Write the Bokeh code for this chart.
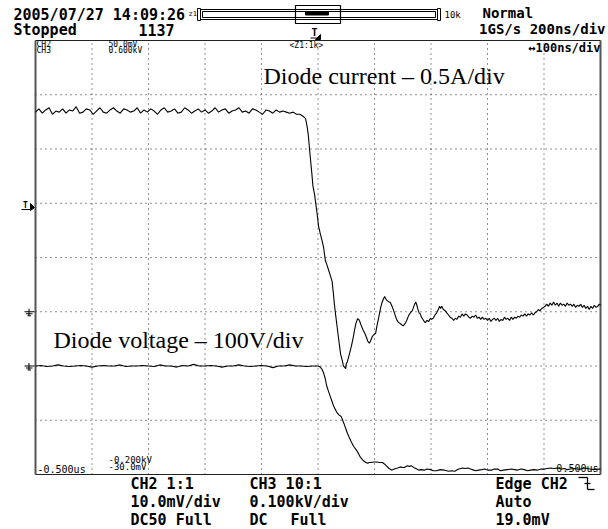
from bokeh.plotting import figure
from bokeh.models import Range1d, Label
from bokeh.embed import file_html
from bokeh.resources import INLINE

# ---------------------------------------------------------------------------
# Captured waveforms (time in ns relative to trigger)
# CH2: diode current (A), 0.5 A/div
# CH3: diode voltage (V), 100 V/div
# ---------------------------------------------------------------------------
t_current = [
    -500, -494, -488, -482, -476, -470, -464, -458, -452, -446,
    -440, -434, -428, -422, -416, -410, -404, -398, -392, -386,
    -380, -374, -368, -362, -356, -350, -344, -338, -332, -326,
    -320, -314, -308, -302, -296, -290, -284, -278, -272, -266,
    -260, -254, -248, -242, -236, -230, -224, -218, -212, -206,
    -200, -194, -188, -182, -176, -170, -164, -158, -152, -146,
    -140, -134, -128, -122, -116, -110, -104, -98, -92, -86,
    -80, -74, -68, -62, -56, -50, -44, -38,
    -32, -26, -22, -19, -17, -15, -13, -11, -9, -6,
    -4, -1, 1, 4, 7, 10, 13, 16, 19, 22,
    25, 27, 29, 31, 34, 36, 38, 40, 43, 45,
    47, 49, 50, 52, 54, 57, 59, 61, 63, 65,
    67, 70, 72, 74, 76, 78, 80, 83, 86, 88,
    91, 93, 96, 99, 102, 104, 107, 109, 111, 113,
    116, 118, 119, 121, 123, 126, 128, 131, 134, 137,
    140, 143, 146, 148, 151, 154, 157, 160, 162, 165,
    167, 169, 171, 173, 175, 177, 179, 181, 183, 185,
    188, 190, 193, 196, 199, 201, 204, 207, 210, 213,
    215, 217, 219, 222, 225, 228, 231, 234, 237, 240,
    243, 246, 249, 252, 255, 258, 261, 264, 267, 270,
    273, 276, 279, 282, 285, 288, 291, 294, 297, 300,
    303, 306, 309, 312, 315, 318, 321, 324, 327, 330,
    333, 336, 339, 342, 345, 348, 351, 354, 357, 360,
    363, 366, 369, 372, 375, 378, 381, 384, 387, 390,
    393, 396, 399, 402, 405, 408, 411, 414, 417, 420,
    423, 426, 429, 432, 435, 438, 441, 444, 447, 450,
    453, 456, 459, 462, 465, 468, 471, 474, 477, 480,
    483, 486, 489, 492, 495, 498, 500,
]
i_current = [
    1.84, 1.87, 1.83, 1.86, 1.88, 1.82, 1.85, 1.84, 1.87, 1.83,
    1.86, 1.85, 1.89, 1.83, 1.84, 1.87, 1.86, 1.82, 1.85, 1.88,
    1.84, 1.83, 1.86, 1.88, 1.85, 1.83, 1.87, 1.86, 1.84, 1.85,
    1.88, 1.83, 1.86, 1.84, 1.87, 1.85, 1.82, 1.86, 1.88, 1.84,
    1.85, 1.87, 1.83, 1.84, 1.88, 1.86, 1.83, 1.85, 1.87, 1.84,
    1.86, 1.83, 1.85, 1.88, 1.84, 1.86, 1.87, 1.83, 1.85, 1.86,
    1.88, 1.84, 1.85, 1.83, 1.87, 1.86, 1.84, 1.82, 1.86, 1.85,
    1.83, 1.86, 1.84, 1.85, 1.84, 1.83, 1.84, 1.82,
    1.82, 1.80, 1.78, 1.70, 1.62, 1.50, 1.39, 1.28, 1.16, 1.08,
    1.00, 0.88, 0.79, 0.72, 0.66, 0.59, 0.47, 0.43, 0.38, 0.33,
    0.28, 0.18, 0.07, -0.02, -0.145, -0.23, -0.31, -0.39, -0.45, -0.50,
    -0.51, -0.525, -0.48, -0.46, -0.42, -0.36, -0.32, -0.27, -0.22, -0.16,
    -0.11, -0.065, -0.07, -0.09, -0.12, -0.145, -0.17, -0.20, -0.24, -0.27,
    -0.29, -0.27, -0.23, -0.21, -0.20, -0.14, -0.065, -0.01, 0.04, 0.08,
    0.12, 0.14, 0.13, 0.11, 0.10, 0.09, 0.085, 0.05, 0.01, -0.04,
    -0.08, -0.10, -0.11, -0.12, -0.13, -0.11, -0.08, -0.04, -0.02, 0.00,
    0.01, 0.04, 0.07, 0.09, 0.06, 0.02, -0.01, -0.02, -0.05, -0.065,
    -0.09, -0.10, -0.08, -0.09, -0.06, -0.07, -0.06, -0.03, -0.01, 0.02,
    0.05, 0.03, 0.05, 0.02, 0.01, -0.01, -0.03, -0.05, -0.06, -0.08,
    -0.06, -0.07, -0.04, -0.05, -0.02, -0.04, -0.02, -0.03, -0.05, -0.06,
    -0.04, -0.05, -0.03, -0.06, -0.05, -0.07, -0.05, -0.07, -0.06, -0.08,
    -0.06, -0.09, -0.07, -0.06, -0.08, -0.06, -0.09, -0.07, -0.08, -0.05,
    -0.07, -0.06, -0.08, -0.05, -0.07, -0.05, -0.06, -0.04, -0.05, -0.03,
    -0.04, -0.02, -0.04, -0.02, -0.03, -0.01, -0.03, -0.01, 0.00, 0.02,
    0.01, 0.03, 0.04, 0.05, 0.07, 0.05, 0.08, 0.06, 0.09, 0.06,
    0.08, 0.05, 0.08, 0.06, 0.07, 0.05, 0.08, 0.06, 0.07, 0.05,
    0.07, 0.04, 0.06, 0.05, 0.07, 0.04, 0.06, 0.03, 0.05, 0.02,
    0.05, 0.03, 0.06, 0.04, 0.05, 0.07, 0.06,
]

t_voltage = [
    -500, -490, -480, -470, -460, -450, -440, -430, -420, -410,
    -400, -390, -380, -370, -360, -350, -340, -330, -320, -310,
    -300, -290, -280, -270, -260, -250, -240, -230, -220, -210,
    -200, -190, -180, -170, -160, -150, -140, -130, -120, -110,
    -100, -90, -80, -70, -60, -50, -40, -30, -20, -10,
    0, 2, 4, 7, 10, 13, 15, 18, 22, 25,
    27, 30, 33, 37, 41, 44, 47, 50, 52, 55,
    59, 63, 68, 72, 75, 79, 82, 85, 88, 91,
    94, 99, 104, 109, 114, 118, 121, 125, 130, 135,
    141, 146, 150, 153, 158, 162, 165, 168, 171, 175,
    178, 183, 188, 193, 199, 204, 210, 216, 224, 231,
    236, 242, 249, 256, 260, 265, 270, 273, 279, 284,
    290, 295, 301, 307, 312, 318, 323, 328, 335, 342,
    348, 353, 359, 365, 371, 376, 382, 388, 395, 401,
    406, 412, 418, 424, 430, 436, 441, 447, 453, 459,
    465, 472, 477, 482, 488, 495, 500,
]
v_voltage = [
    0, 1, -1, 0, 2, 0, -1, 0, 1, 0,
    -2, 0, 1, 0, 0, 2, -1, 0, 0, 1,
    0, -1, 2, 0, 0, -2, 1, 0, 3, 0,
    0, 1, 0, -2, 0, 0, 2, 0, -1, 0,
    1, 0, -3, 0, 0, 2, 0, 0, -1, 0,
    0, -1, -2, -6, -13, -24, -35, -45, -57, -66,
    -72, -79, -85, -90, -93, -101, -109, -118, -124, -131,
    -140, -148, -155, -162, -168, -173, -176, -178, -179, -178,
    -178, -177, -177, -178, -178, -181, -184, -188, -192, -190,
    -188, -186, -187, -187, -184, -185, -184, -186, -188, -190,
    -192, -191, -192, -190, -191, -193, -193, -191, -192, -194,
    -193, -194, -190, -188, -189, -188, -190, -191, -193, -192,
    -191, -190, -192, -192, -190, -190, -193, -192, -191, -190,
    -191, -192, -190, -191, -193, -192, -191, -192, -190, -190,
    -189, -188, -189, -188, -190, -189, -191, -190, -189, -190,
    -190, -188, -189, -190, -191, -190, -190,
]

# Graticule: 10 x 8 divisions, 100 ns/div horizontally
time_div_lines = [-400, -300, -200, -100, 0, 100, 200, 300, 400]
vert_div_lines = [-3, -2, -1, 0, 1, 2, 3]
CURRENT_PER_DIV = 0.5     # A/div
VOLTAGE_PER_DIV = 100.0   # V/div
CURRENT_ZERO_DIV = -1     # ground marker of CH2
VOLTAGE_ZERO_DIV = -2     # ground marker of CH3

# ---------------------------------------------------------------------------
# Canvas layout: the graticule occupies a fixed window inside the page
# ---------------------------------------------------------------------------
W, H = 608, 529
GL, GR, GT, GB = 35, 600, 40, 474
PX_X = (GR - GL) / 10.0
PX_Y = (GB - GT) / 8.0
CX, CY = (GL + GR) / 2.0, (GT + GB) / 2.0


def X(px):
    return (px - CX) * 100.0 / PX_X


def Y(py):
    return (CY - py) / PX_Y


y_lo, y_hi = Y(H), Y(0)

p = figure(
    width=W, height=H,
    x_range=Range1d(X(0), X(W)), y_range=Range1d(y_lo, y_hi),
    output_backend="svg", toolbar_location=None,
    x_axis_location=None, y_axis_location=None,
    min_border=0, min_border_left=0, min_border_right=0,
    min_border_top=0, min_border_bottom=0,
)
p.grid.visible = False
p.outline_line_color = None
p.background_fill_color = "white"
p.border_fill_color = "white"

p.extra_y_ranges = {
    "amps": Range1d((y_lo - CURRENT_ZERO_DIV) * CURRENT_PER_DIV,
                    (y_hi - CURRENT_ZERO_DIV) * CURRENT_PER_DIV),
    "volts": Range1d((y_lo - VOLTAGE_ZERO_DIV) * VOLTAGE_PER_DIV,
                     (y_hi - VOLTAGE_ZERO_DIV) * VOLTAGE_PER_DIV),
}

# dotted graticule
p.segment(x0=time_div_lines, y0=[-4] * len(time_div_lines),
          x1=time_div_lines, y1=[4] * len(time_div_lines),
          line_color="#222222", line_width=1, line_dash="1 4")
p.segment(x0=[-500] * len(vert_div_lines), y0=vert_div_lines,
          x1=[500] * len(vert_div_lines), y1=vert_div_lines,
          line_color="#222222", line_width=1, line_dash="1 4")

# screen frame
p.segment(x0=[-500, 500], y0=[-4, -4], x1=[-500, 500], y1=[4, 4],
          line_color="#555555", line_width=2)
p.segment(x0=[-500, -500], y0=[-4, 4], x1=[500, 500], y1=[-4, 4],
          line_color="#222222", line_width=1)

# traces
p.line(t_current, i_current, y_range_name="amps",
       line_color="black", line_width=1.1)
p.line(t_voltage, v_voltage, y_range_name="volts",
       line_color="black", line_width=1.1)


def label(txt, px, py, size, font="DejaVu Sans Mono", bold=False,
          align="left"):
    # py is the desired baseline; the text box sits about a third of the
    # font size below its anchor, so lift the anchor accordingly
    p.add_layout(Label(
        x=X(px), y=Y(py - 0.32 * size), text=txt, text_font=font,
        text_font_size=f"{size}px",
        text_font_style="bold" if bold else "normal",
        text_align=align, text_baseline="alphabetic", text_color="black"))


# header
label("2005/07/27 14:09:26", 13, 19, 15, bold=True)
label("Stopped", 13, 34, 15, bold=True)
label("1137", 138, 34, 15, bold=True)
label("z1", 188, 16, 7)
label("10k", 444, 17, 9)
label("Normal", 482, 17, 14, bold=True)
label("1GS/s 200ns/div", 605, 33, 14, bold=True, align="right")

# memory position bar
p.quad(left=[X(200), X(202)], right=[X(437), X(435)],
       top=[Y(9), Y(11)], bottom=[Y(19), Y(17)],
       fill_color=None, line_color="black", line_width=1)
p.quad(left=[X(197), X(437)], right=[X(200), X(440)],
       top=[Y(8), Y(8)], bottom=[Y(20), Y(20)],
       fill_color=None, line_color="black", line_width=1)
p.quad(left=X(295), right=X(340), top=Y(5), bottom=Y(23),
       fill_color=None, line_color="black", line_width=1.2)
p.quad(left=X(305), right=X(328), top=Y(11), bottom=Y(14.5),
       fill_color="black", line_color="black")

# trigger position marker above the screen
label("T", 314, 35, 10, bold=True, align="center")
p.segment(x0=[X(310)], y0=[Y(37.5)], x1=[X(318)], y1=[Y(37.5)],
          line_color="black", line_width=1)
p.patch([X(315), X(320), X(320)], [Y(39), Y(34), Y(39)], color="black")

# readouts inside the screen
label("CH2", 36, 47, 8)
label("CH3", 36, 53, 8)
label("50.0mV", 108, 47, 8)
label("0.600kV", 108, 53, 8)
label("<Z1:1k>", 289, 48, 8)
label("\u2194100ns/div", 600, 51, 12, bold=True, align="right")
label("-0.500us", 37, 472, 10)
label("-0.200kV", 108, 462, 9)
label("-30.0mV", 108, 469, 9)
label("0.500us", 598, 471, 10, align="right")

# trace annotations
label("Diode current \u2013 0.5A/div", 263, 83, 24, font="Liberation Serif")
label("Diode voltage \u2013 100V/div", 53, 347, 24, font="Liberation Serif")

# left-edge markers: trigger level and channel grounds
label("T", 25, 208, 8, bold=True, align="center")
p.segment(x0=[X(21)], y0=[Y(209)], x1=[X(30)], y1=[Y(209)],
          line_color="black", line_width=1)
p.patch([X(30), X(34), X(30)], [Y(203), Y(207), Y(210)], color="black")
for gy in (CURRENT_ZERO_DIV, VOLTAGE_ZERO_DIV):
    gpy = CY - gy * PX_Y
    p.segment(x0=[X(24), X(28.5), X(25.5), X(27)],
              y0=[Y(gpy), Y(gpy - 3), Y(gpy + 2), Y(gpy + 4)],
              x1=[X(34), X(28.5), X(32), X(30.5)],
              y1=[Y(gpy), Y(gpy + 4), Y(gpy + 2), Y(gpy + 4)],
              line_color="black", line_width=1)

# footer settings
label("CH2 1:1", 130, 488, 15, bold=True)
label("10.0mV/div", 130, 506, 15, bold=True)
label("DC50 Full", 130, 524, 15, bold=True)
label("CH3 10:1", 249, 488, 15, bold=True)
label("0.100kV/div", 249, 506, 15, bold=True)
label("DC", 249, 524, 15, bold=True)
label("Full", 290, 524, 15, bold=True)
label("Edge CH2", 495, 488, 15, bold=True)
label("Auto", 495, 506, 15, bold=True)
label("19.0mV", 495, 524, 15, bold=True)
# falling-edge trigger symbol
p.segment(x0=[X(578), X(587), X(587), X(584)],
          y0=[Y(477), Y(477), Y(489), Y(483)],
          x1=[X(587), X(587), X(594), X(590)],
          y1=[Y(477), Y(489), Y(489), Y(483)],
          line_color="black", line_width=1.3)

open("out.html", "w").write(file_html(p, INLINE))
